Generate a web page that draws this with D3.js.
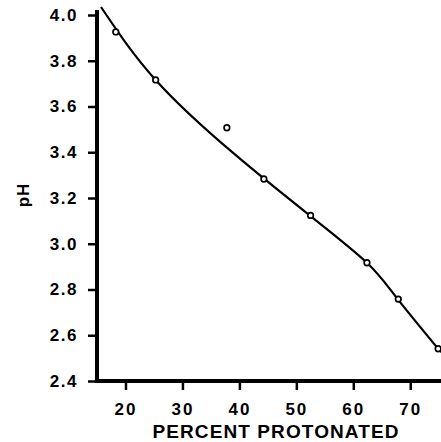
<!DOCTYPE html>
<html>
<head>
<meta charset="utf-8">
<script src="https://cdn.jsdelivr.net/npm/d3@7"></script>
<style>
  body { margin: 0; background: #fff; }
  text { font-family: "Liberation Sans", Arial, sans-serif; fill: #000; }
</style>
</head>
<body>
<div id="chart"></div>
<script>
// measured points (percent protonated vs pH)
var pctPoints = [18.3, 25.3, 37.8, 44.3, 52.5, 62.4, 67.9, 74.9];
var phPoints = [3.926, 3.716, 3.507, 3.283, 3.124, 2.917, 2.758, 2.541];

// fitted curve
var pctCurve = [15.7, 25.3, 38.9, 52.5, 62.4, 67.8, 75.4];
var phCurve = [4.035, 3.716, 3.397, 3.121, 2.917, 2.758, 2.526];

var xTicks = [20, 30, 40, 50, 60, 70];
var yTicks = [2.4, 2.6, 2.8, 3.0, 3.2, 3.4, 3.6, 3.8, 4.0];

var width = 441, height = 442;

var svg = d3.select("#chart").append("svg")
    .attr("width", width)
    .attr("height", height);

// set the ranges
var x = d3.scaleLinear().domain([15, 75.4]).range([97, 441]);
var y = d3.scaleLinear().domain([2.4, 4.0]).range([381, 15]);

// axis lines
svg.append("line")
    .attr("x1", x(15)).attr("x2", x(15))
    .attr("y1", y(2.4) + 2).attr("y2", y(4.0) - 5)
    .style("stroke", "#000").style("stroke-width", 4);

svg.append("line")
    .attr("x1", x(15) - 2).attr("x2", width)
    .attr("y1", y(2.4)).attr("y2", y(2.4))
    .style("stroke", "#000").style("stroke-width", 4);

// Add the Y Axis
var yAxis = svg.append("g")
    .attr("transform", "translate(" + (x(15) - 1) + ",0)")
    .call(d3.axisLeft(y).tickValues(yTicks).tickFormat(d3.format(".1f")).tickSize(8).tickPadding(10));
yAxis.select(".domain").remove();
yAxis.selectAll("line").style("stroke-width", 2.5);
yAxis.selectAll("text")
    .style("font-size", "17px")
    .style("font-weight", "bold")
    .style("letter-spacing", "1.5px")
    .style("font-family", "Liberation Sans, Arial, sans-serif");

// Add the X Axis
var xAxis = svg.append("g")
    .attr("transform", "translate(0," + (y(2.4) + 1) + ")")
    .call(d3.axisBottom(x).tickValues(xTicks).tickSize(8).tickPadding(13));
xAxis.select(".domain").remove();
xAxis.selectAll("line").style("stroke-width", 2.5);
xAxis.selectAll("text")
    .style("font-size", "17px")
    .style("font-weight", "bold")
    .style("letter-spacing", "2px")
    .style("font-family", "Liberation Sans, Arial, sans-serif");

// text label for the x axis
svg.append("text")
    .attr("x", 276)
    .attr("y", 438)
    .style("text-anchor", "middle")
    .style("font-size", "19px")
    .style("font-weight", "bold")
    .style("letter-spacing", "1.1px")
    .text("PERCENT PROTONATED");

// text label for the y axis
svg.append("text")
    .attr("transform", "translate(29,195) rotate(-90)")
    .style("text-anchor", "middle")
    .style("font-size", "17px")
    .style("font-weight", "bold")
    .style("letter-spacing", "1px")
    .text("pH");

// the curve
var curveData = pctCurve.map(function (d, i) { return { x: d, y: phCurve[i] }; });
var line = d3.line()
    .x(function (d) { return x(d.x); })
    .y(function (d) { return y(d.y); })
    .curve(d3.curveNatural);

svg.append("path")
    .datum(curveData)
    .attr("d", line)
    .style("fill", "none")
    .style("stroke", "#000")
    .style("stroke-width", 2.2);

// the points
var pointData = pctPoints.map(function (d, i) { return { x: d, y: phPoints[i] }; });
svg.selectAll(".dot")
    .data(pointData)
    .enter().append("circle")
    .attr("class", "dot")
    .attr("cx", function (d) { return x(d.x); })
    .attr("cy", function (d) { return y(d.y); })
    .attr("r", 2.8)
    .style("fill", "#fff")
    .style("stroke", "#000")
    .style("stroke-width", 1.7);
</script>
</body>
</html>
